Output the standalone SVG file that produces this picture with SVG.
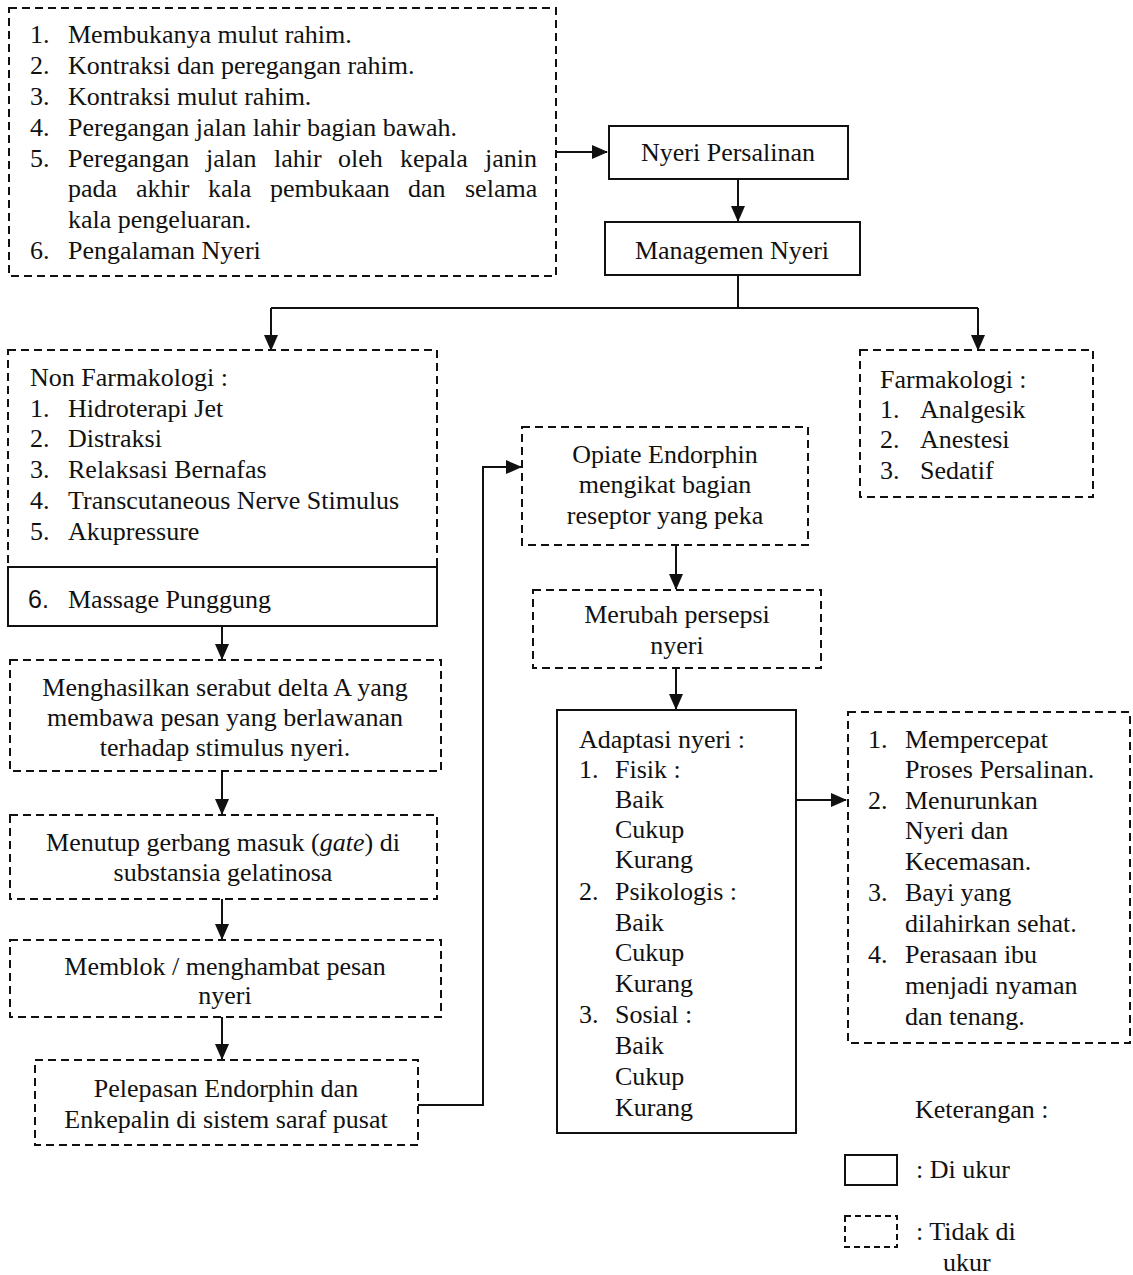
<svg xmlns="http://www.w3.org/2000/svg" width="1133" height="1275" viewBox="0 0 1133 1275">
<style>
text{font-family:"Liberation Serif","Times New Roman",serif;font-size:26px;fill:#111}
.c{text-anchor:middle}
.solid{fill:none;stroke:#111;stroke-width:2}
.dash{fill:none;stroke:#111;stroke-width:2;stroke-dasharray:8 5}
.ln{fill:none;stroke:#111;stroke-width:2}
</style>
<defs>
<marker id="ah" markerUnits="userSpaceOnUse" markerWidth="16" markerHeight="14" refX="15" refY="7" orient="auto">
<path d="M0,0 L16,7 L0,14 Z" fill="#111"/>
</marker>
</defs>
<rect width="1133" height="1275" fill="#fff"/>

<g id="connectors">
<path class="ln" d="M556,152 H607" marker-end="url(#ah)"/>
<path class="ln" d="M738,179 V221" marker-end="url(#ah)"/>
<path class="ln" d="M738,275 V308 M271,308 H978"/>
<path class="ln" d="M271,308 V350" marker-end="url(#ah)"/>
<path class="ln" d="M978,308 V350" marker-end="url(#ah)"/>
<path class="ln" d="M222,626 V659" marker-end="url(#ah)"/>
<path class="ln" d="M222,771 V814" marker-end="url(#ah)"/>
<path class="ln" d="M222,899 V939" marker-end="url(#ah)"/>
<path class="ln" d="M222,1017 V1059" marker-end="url(#ah)"/>
<path class="ln" d="M418,1105 H483 V467 H521" marker-end="url(#ah)"/>
<path class="ln" d="M676,545 V589" marker-end="url(#ah)"/>
<path class="ln" d="M676,668 V709" marker-end="url(#ah)"/>
<path class="ln" d="M796,800 H846" marker-end="url(#ah)"/>
</g>

<g id="causes">
<rect class="dash" x="9" y="8" width="547" height="268"/>
<text x="30" y="43">1.</text><text x="68" y="43">Membukanya mulut rahim.</text>
<text x="30" y="74">2.</text><text x="68" y="74">Kontraksi dan peregangan rahim.</text>
<text x="30" y="105">3.</text><text x="68" y="105">Kontraksi mulut rahim.</text>
<text x="30" y="136">4.</text><text x="68" y="136">Peregangan jalan lahir bagian bawah.</text>
<text x="30" y="167">5.</text>
<text y="167"><tspan x="68">Peregangan</tspan><tspan x="206">jalan</tspan><tspan x="274">lahir</tspan><tspan x="338">oleh</tspan><tspan x="400">kepala</tspan><tspan x="485">janin</tspan></text>
<text y="197"><tspan x="68">pada</tspan><tspan x="136">akhir</tspan><tspan x="208">kala</tspan><tspan x="270">pembukaan</tspan><tspan x="408">dan</tspan><tspan x="465">selama</tspan></text>
<text x="68" y="228">kala pengeluaran.</text>
<text x="30" y="259">6.</text><text x="68" y="259">Pengalaman Nyeri</text>
</g>

<g id="nyeri-persalinan">
<rect class="solid" x="609" y="126" width="239" height="53"/>
<text class="c" x="728" y="161">Nyeri Persalinan</text>
</g>

<g id="managemen-nyeri">
<rect class="solid" x="605" y="222" width="255" height="53"/>
<text class="c" x="732" y="259">Managemen Nyeri</text>
</g>

<g id="non-farmakologi">
<rect class="dash" x="8" y="350" width="429" height="217"/>
<text x="30" y="386">Non Farmakologi :</text>
<text x="30" y="417">1.</text><text x="68" y="417">Hidroterapi Jet</text>
<text x="30" y="447">2.</text><text x="68" y="447">Distraksi</text>
<text x="30" y="478">3.</text><text x="68" y="478">Relaksasi Bernafas</text>
<text x="30" y="509">4.</text><text x="68" y="509">Transcutaneous Nerve Stimulus</text>
<text x="30" y="540">5.</text><text x="68" y="540">Akupressure</text>
</g>

<g id="massage-punggung">
<rect class="solid" x="8" y="567" width="429" height="59"/>
<text x="28" y="608" style="font-family:'Liberation Sans',Arial,sans-serif;font-size:25px">6.</text><text x="68" y="608">Massage Punggung</text>
</g>

<g id="farmakologi">
<rect class="dash" x="860" y="350" width="233" height="147"/>
<text x="880" y="388">Farmakologi :</text>
<text x="880" y="418">1.</text><text x="920" y="418">Analgesik</text>
<text x="880" y="448">2.</text><text x="920" y="448">Anestesi</text>
<text x="880" y="479">3.</text><text x="920" y="479">Sedatif</text>
</g>

<g id="serabut-delta">
<rect class="dash" x="10" y="660" width="431" height="111"/>
<text class="c" x="225" y="696">Menghasilkan serabut delta A yang</text>
<text class="c" x="225" y="726">membawa pesan yang berlawanan</text>
<text class="c" x="225" y="756">terhadap stimulus nyeri.</text>
</g>

<g id="menutup-gerbang">
<rect class="dash" x="10" y="815" width="427" height="84"/>
<text class="c" x="223" y="851">Menutup gerbang masuk (<tspan font-style="italic">gate</tspan>) di</text>
<text class="c" x="223" y="881">substansia gelatinosa</text>
</g>

<g id="memblok">
<rect class="dash" x="10" y="940" width="431" height="77"/>
<text class="c" x="225" y="975">Memblok / menghambat pesan</text>
<text class="c" x="225" y="1004">nyeri</text>
</g>

<g id="pelepasan-endorphin">
<rect class="dash" x="35" y="1060" width="383" height="85"/>
<text class="c" x="226" y="1097">Pelepasan Endorphin dan</text>
<text class="c" x="226" y="1128">Enkepalin di sistem saraf pusat</text>
</g>

<g id="opiate-endorphin">
<rect class="dash" x="522" y="427" width="286" height="118"/>
<text class="c" x="665" y="463">Opiate Endorphin</text>
<text class="c" x="665" y="493">mengikat bagian</text>
<text class="c" x="665" y="524">reseptor yang peka</text>
</g>

<g id="merubah-persepsi">
<rect class="dash" x="533" y="590" width="288" height="78"/>
<text class="c" x="677" y="623">Merubah persepsi</text>
<text class="c" x="677" y="654">nyeri</text>
</g>

<g id="adaptasi-nyeri">
<rect class="solid" x="557" y="710" width="239" height="423"/>
<text x="579" y="748">Adaptasi nyeri :</text>
<text x="579" y="778">1.</text><text x="615" y="778">Fisik :</text>
<text x="615" y="808">Baik</text>
<text x="615" y="838">Cukup</text>
<text x="615" y="868">Kurang</text>
<text x="579" y="900">2.</text><text x="615" y="900">Psikologis :</text>
<text x="615" y="931">Baik</text>
<text x="615" y="961">Cukup</text>
<text x="615" y="992">Kurang</text>
<text x="579" y="1023">3.</text><text x="615" y="1023">Sosial :</text>
<text x="615" y="1054">Baik</text>
<text x="615" y="1085">Cukup</text>
<text x="615" y="1116">Kurang</text>
</g>

<g id="hasil">
<rect class="dash" x="848" y="712" width="282" height="331"/>
<text x="868" y="748">1.</text><text x="905" y="748">Mempercepat</text>
<text x="905" y="778">Proses Persalinan.</text>
<text x="868" y="809">2.</text><text x="905" y="809">Menurunkan</text>
<text x="905" y="839">Nyeri dan</text>
<text x="905" y="870">Kecemasan.</text>
<text x="868" y="901">3.</text><text x="905" y="901">Bayi yang</text>
<text x="905" y="932">dilahirkan sehat.</text>
<text x="868" y="963">4.</text><text x="905" y="963">Perasaan ibu</text>
<text x="905" y="994">menjadi nyaman</text>
<text x="905" y="1025">dan tenang.</text>
</g>

<g id="legend">
<text x="915" y="1118">Keterangan :</text>
<rect class="solid" x="845" y="1155" width="52" height="30"/>
<text x="916" y="1178">:  Di ukur</text>
<rect class="dash" x="845" y="1216" width="52" height="31" style="stroke-dasharray:6 4"/>
<text x="916" y="1240">: Tidak di</text>
<text x="943" y="1271">ukur</text>
</g>
</svg>
